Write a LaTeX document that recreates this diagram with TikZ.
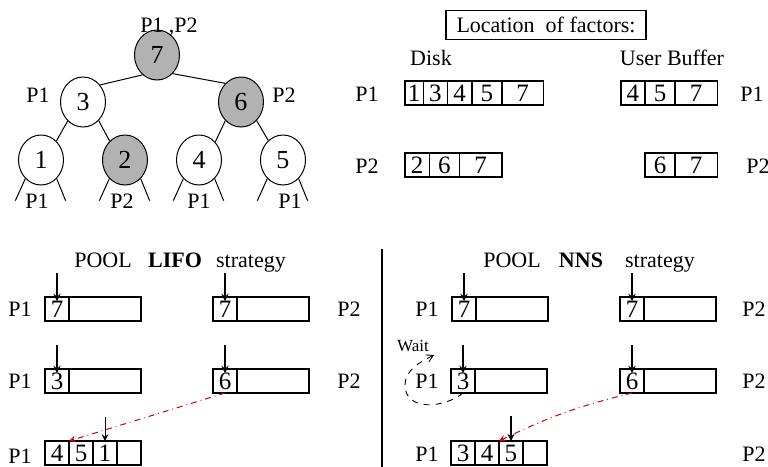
\documentclass[tikz,border=0pt]{standalone}
\usepackage{fontspec}
\setmainfont{Liberation Serif}
\usepackage{tikz}
\usetikzlibrary{shapes.geometric, arrows}
\usetikzlibrary{shapes,arrows,positioning}
\tikzstyle{factor} = [draw, ellipse, minimum width=22.5pt, minimum height=25pt, inner sep=0pt, line width=0.5pt, font=\fontsize{13}{15}\selectfont]
\tikzstyle{shared} = [factor, fill=black!30]
\tikzstyle{cell} = [draw, rectangle, minimum height=12pt, inner sep=0pt, outer sep=0pt, line width=0.7pt, font=\fontsize{12.5}{14}\selectfont]
\tikzstyle{ptr} = [->, >=stealth, line width=0.6pt]
\tikzstyle{move} = [->, >=stealth, red!80!black, dash dot, line width=0.5pt]
\tikzstyle{waitarrow} = [->, >=angle 60, dashed, line width=0.45pt]

\begin{document}
\begin{tikzpicture}[x=0.5pt, y=-0.5pt, every node/.style={font=\fontsize{11}{13}\selectfont}]
            \useasboundingbox (0,0) rectangle (768,467);
            % elimination tree
            \node[shared] (n7) at (157,55) {7};
            \node[factor] (n3) at (83,102) {3};
            \node[shared] (n6) at (241,102) {6};
            \node[factor] (n1) at (41,160) {1};
            \node[shared] (n2) at (125,160) {2};
            \node[factor] (n4) at (199,160) {4};
            \node[factor] (n5) at (283,160) {5};
            
            \draw[line width=0.5pt] (n7.234) -- (n3.45);
            \draw[line width=0.5pt] (n7.310) -- (n6.130);
            \draw[line width=0.5pt] (n3.231) -- (n1.51);
            \draw[line width=0.5pt] (n3.310) -- (n2.129);
            \draw[line width=0.5pt] (n6.230) -- (n4.48);
            \draw[line width=0.5pt] (n6.310) -- (n5.127);
            \foreach \n in {n1,n2,n4,n5} {
                \draw[line width=0.5pt] (\n.230) -- ++(-10,22);
                \draw[line width=0.5pt] (\n.310) -- ++(9,22);
            }
            
            \node (t7) at (169,27) {P1 ,P2};
            \node (t3) at (38,95) {P1};
            \node (t6) at (284,95) {P2};
            \node (t1) at (37,201) {P1};
            \node (t2) at (122,201) {P2};
            \node (t4) at (199,201) {P1};
            \node (t5) at (290,201) {P1};
            
            % location of factors
            \node[draw, line width=0.6pt, minimum width=100pt, minimum height=14.5pt] (loc) at (546,25) {Location~ of factors:};
            \node (disk) at (431,58) {Disk};
            \node (ubuf) at (672,58) {User Buffer};
            \node (dP1) at (367,94) {P1};
            \node (dP2) at (367,166) {P2};
            \node (uP1) at (752,94) {P1};
            \node (uP2) at (758,166) {P2};
            
            \node[cell, minimum width=9.2pt, anchor=west] (d1a) at (405,93) {1};
            \node[cell, minimum width=12pt, right=0pt of d1a] (d1b) {3};
            \node[cell, minimum width=12.2pt, right=0pt of d1b] (d1c) {4};
            \node[cell, minimum width=15pt, right=0pt of d1c] (d1d) {5};
            \node[cell, minimum width=20.8pt, right=0pt of d1d] (d1e) {7};
            
            \node[cell, minimum width=12.2pt, anchor=west] (d2a) at (405,165) {2};
            \node[cell, minimum width=15pt, right=0pt of d2a] (d2b) {6};
            \node[cell, minimum width=21.2pt, right=0pt of d2b] (d2c) {7};
            
            \node[cell, minimum width=12pt, anchor=west] (u1a) at (621,93) {4};
            \node[cell, minimum width=15pt, right=0pt of u1a] (u1b) {5};
            \node[cell, minimum width=21.2pt, right=0pt of u1b] (u1c) {7};
            
            \node[cell, minimum width=15pt, anchor=west] (u2a) at (645,165) {6};
            \node[cell, minimum width=21.2pt, right=0pt of u2a] (u2b) {7};
            
            % pools
            \draw[line width=0.6pt] (382,249) -- (382,467);
            
            \node[anchor=base] (lpool) at (103,267) {POOL};
            \node[anchor=base] (lname) at (175,267) {\bfseries LIFO};
            \node[anchor=base] (lstrat) at (251,267) {strategy};
            \node[anchor=base] (npool) at (512,267) {POOL};
            \node[anchor=base] (nname) at (581,267) {\bfseries NNS};
            \node[anchor=base] (nstrat) at (660,267) {strategy};
            
            \foreach \p/\x/\y/\t/\l/\lx in {la/45/309/7/P1/20, lb/213/309/7/P2/349, lc/45/381/3/P1/20, ld/213/381/6/P2/349,
                                        na/452/309/7/P1/427, nb/620/309/7/P2/754, nc/451/381/3/P1/427, nd/620/381/6/P2/754} {
                \node[cell, minimum width=12pt, anchor=west] (\p1) at (\x,\y) {\t};
                \node[cell, minimum width=36pt, right=0pt of \p1] (\p2) {};
                \node (\p lab) at (\lx,\y) {\l};
                \draw[ptr] (\p1.north) ++(0,-24) -- ++(0,28);
            }
            
            \node[cell, minimum width=12pt, anchor=west] (le1) at (45,453) {4};
            \node[cell, minimum width=12pt, right=0pt of le1] (le2) {5};
            \node[cell, minimum width=12pt, right=0pt of le2] (le3) {1};
            \node[cell, minimum width=12pt, right=0pt of le3] (le4) {};
            \node (lelab) at (20,456) {P1};
            
            \node[cell, minimum width=12pt, anchor=west] (ne1) at (451,453) {3};
            \node[cell, minimum width=12pt, right=0pt of ne1] (ne2) {4};
            \node[cell, minimum width=12pt, right=0pt of ne2] (ne3) {5};
            \node[cell, minimum width=12pt, right=0pt of ne3] (ne4) {};
            \node (nelab) at (427,454) {P1};
            \node (nelab2) at (754,454) {P2};
            
            \draw[->, >=stealth, line width=0.5pt] (le3.north) ++(0,-24) -- (le3.north);
            \draw[ptr] (ne3.north) ++(0,-25) -- (ne3.north);
            
            \draw[move] (ld1.south) -- (le1.north east);
            \draw[move] (nd1.south) to[bend right=6] (ne2.north east);
            
            \node[font=\fontsize{8.5}{10}\selectfont] (wait) at (413,346) {Wait};
            \coordinate (waittip) at (434,355);
            \draw[waitarrow] (nc1.south) .. controls (445,408) and (405,412) .. (405,385) .. controls (405,370) and (420,362) .. (waittip);
        \end{tikzpicture}
\end{document}
